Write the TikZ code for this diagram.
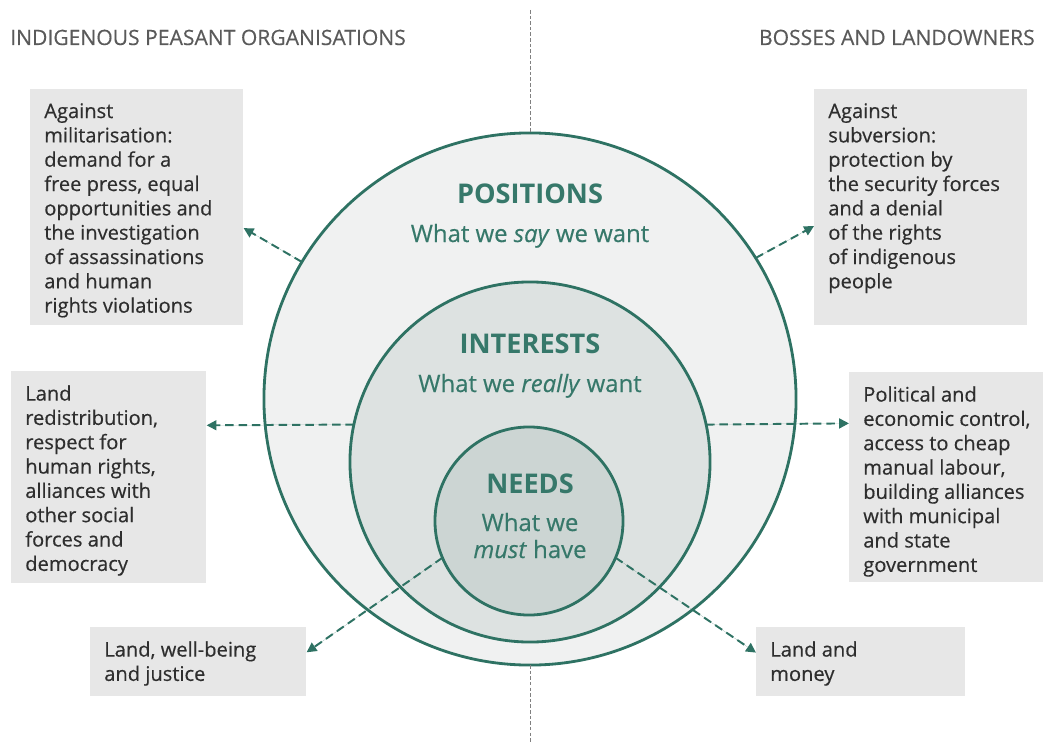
\documentclass[tikz,border=0pt]{standalone}
\usepackage{fontspec}
\setmainfont{Open Sans}
\newfontfamily\notefont{Open Sans}[FakeBold=0.4]
\usepackage{tikz}
\usetikzlibrary{positioning,arrows.meta}
\definecolor{ringgreen}{HTML}{2E7263}
\definecolor{labelgreen}{HTML}{36786A}
\definecolor{notegray}{HTML}{E7E7E7}
\definecolor{outerfill}{HTML}{F0F1F1}
\definecolor{midfill}{HTML}{DDE2E1}
\definecolor{innerfill}{HTML}{CCD5D3}
\definecolor{headgray}{HTML}{5A5A5A}
\definecolor{notetext}{HTML}{2E2E2E}
\tikzset{>={Triangle[length=7pt,width=7pt]}}
\newcommand{\notetxt}[3]{\parbox[t][#2][t]{#1}{\raggedright\rightskip=0pt plus 1fil minus 3cm #3}}

\begin{document}
\begin{tikzpicture}[x=0.025cm,y=-0.025cm,
  ring/.style={circle,draw=ringgreen,line width=2pt,inner sep=0pt,outer sep=0pt},
  note/.style={fill=notegray,anchor=north west,inner xsep=0.35cm,inner ysep=0.35cm,
    text=notetext,font=\notefont\fontsize{14.3}{17.3}\selectfont},
  head/.style={text=headgray,inner sep=0pt,font=\notefont\fontsize{15}{18}\selectfont},
  title/.style={text=labelgreen,font=\fontsize{19.3}{22}\selectfont\bfseries,anchor=base},
  sub/.style={text=labelgreen,font=\notefont\fontsize{17}{20}\selectfont,anchor=base},
  link/.style={->,draw=ringgreen,fill=ringgreen,line width=1.4pt,dash pattern=on 6pt off 3.5pt},
  axis/.style={draw=gray,line width=0.7pt,dash pattern=on 2.5pt off 1.5pt}]
\path[use as bounding box] (0,0) rectangle (1054,742);
% the three rings
\node[ring,fill=outerfill,minimum size=13.3cm] (outer) at (530,399) {};
\node[ring,fill=midfill,minimum size=9cm] (mid) at (530,462) {};
\node[ring,fill=innerfill,minimum size=4.7cm] (inner) at (529,521) {};
% divider
\coordinate (axtop) at (530,10);
\coordinate (axbot) at (530,742);
\draw[axis] (axtop) -- (outer.north);
\draw[axis] (outer.south) -- (axbot);
% headings
\node[head,anchor=base west] (lefthead) at (10,45) {INDIGENOUS PEASANT ORGANISATIONS};
\node[head,anchor=base east] (righthead) at (1035,45) {BOSSES AND LANDOWNERS};
% labels in the rings
\node[title] (postitle) at (530,203) {POSITIONS};
\node[sub] (possub) at (530,242) {What we \emph{say} we want};
\node[title] (inttitle) at (530,353) {INTERESTS};
\node[sub] (intsub) at (530,392) {What we \emph{really} want};
\node[title] (needtitle) at (530,493) {NEEDS};
\node[sub] (needsuba) at (530,531) {What we};
\node[sub] (needsubb) at (530,558) {\emph{must} have};
% notes
\node[note] (tlbox) at (30,89) {\notetxt{4.625cm}{5.2cm}{Against\\ militarisation:\\ demand for a\\ free press, equal\\ opportunities and\\ the investigation\\ of assassinations\\ and human\\ rights violations}};
\node[note] (trbox) at (814,89) {\notetxt{4.625cm}{5.2cm}{Against\\ subversion:\\ protection by\\ the security forces\\ and a denial\\ of the rights\\ of indigenous\\ people}};
\node[note] (mlbox) at (11,371) {\notetxt{4.175cm}{4.6cm}{Land\\ redistribution,\\ respect for\\ human rights,\\ alliances with\\ other social\\ forces and\\ democracy}};
\node[note] (mrbox) at (849,372) {\notetxt{4.15cm}{4.55cm}{Political and\\ economic control,\\ access to cheap\\ manual labour,\\ building alliances\\ with municipal\\ and state\\ government}};
\node[note] (blbox) at (90,627) {\notetxt{4.7cm}{1.025cm}{Land, well-being\\ and justice}};
\node[note] (brbox) at (756,627) {\notetxt{4.525cm}{1.025cm}{Land and\\ money}};
% arrows
\draw[link] (outer.149) -- (tlbox.-11);
\draw[link] (outer.32) -- (trbox.190);
\draw[link] (mid.168) -- (mlbox.28);
\draw[link] (mid.12) -- (mrbox.151);
\draw[link] (inner.203) -- (blbox.5);
\draw[link] (inner.-23) -- (brbox.175);
\end{tikzpicture}
\end{document}
